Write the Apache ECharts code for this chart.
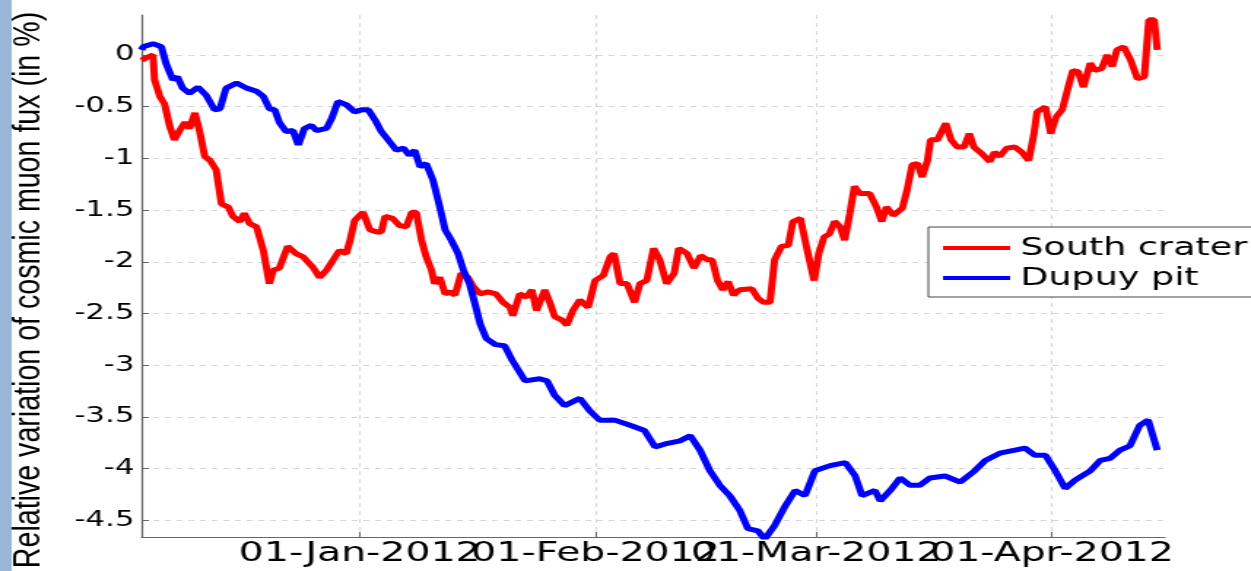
<!DOCTYPE html>
<html>
<head>
<meta charset="utf-8">
<script src="https://cdn.jsdelivr.net/npm/echarts@6/dist/echarts.min.js"></script>
<style>
  html, body { margin: 0; padding: 0; background: #fff; overflow: hidden; }
  /* the original figure was pasted stretched sideways, so draw narrow and stretch */
  #chart { width: 857px; height: 571px; transform: scaleX(1.4597); transform-origin: 0 0; }
</style>
</head>
<body>
<div id="chart"></div>
<script>
// time of each point, in days after 3 Dec 2011 08:00 UTC
const startTime = Date.UTC(2011, 11, 3, 8);
const dayMs = 86400000;

const southDays = [0, 0.8, 1.5, 1.7, 2.4, 3.0, 3.7, 4.3, 5.0, 5.7, 6.3, 7.0, 7.6, 8.3, 9.0, 9.8,
  10.5, 11.4, 12.0, 12.9, 13.5, 14.2, 15.1, 16.0, 16.8, 17.3, 18.1, 19.2, 20.3, 21.2, 22.5, 23.4,
  24.3, 25.2, 26.0, 26.9, 27.4, 28.0, 29.1, 30.0, 30.9, 31.5, 32.0, 33.0, 33.9, 34.8, 35.5, 36.1,
  36.8, 37.4, 38.1, 38.5, 39.2, 39.9, 40.5, 41.2, 42.0, 42.9, 43.6, 44.5, 45.5, 46.6, 47.5, 48.4,
  48.8, 49.7, 50.6, 51.3, 51.9, 53.0, 53.7, 54.3, 55.2, 55.9, 56.7, 57.6, 58.7, 59.6, 60.7, 61.6,
  62.1, 62.9, 63.8, 64.8, 65.5, 66.4, 67.3, 68.1, 69.0, 70.0, 70.6, 71.7, 72.6, 73.5, 74.4, 75.0,
  75.7, 76.4, 77.1, 77.8, 78.6, 80.2, 81.0, 81.7, 82.6, 83.2, 84.1, 85.0, 85.6, 86.6, 87.5, 88.4,
  89.0, 89.7, 90.4, 91.1, 91.8, 92.4, 93.1, 93.7, 94.4, 95.7, 96.6, 97.3, 97.9, 98.8, 100.0, 100.6,
  101.3, 102.0, 102.6, 103.3, 103.7, 104.6, 105.7, 106.4, 107.2, 108.1, 108.8, 109.4, 110.4, 111.5,
  112.1, 112.8, 113.7, 114.8, 115.7, 116.6, 117.3, 117.7, 118.8, 119.5, 120.2, 121.0, 121.8, 122.4,
  123.1, 123.8, 124.7, 125.3, 126.2, 126.9, 127.6, 128.2, 129.1, 130.0, 130.9, 131.8, 132.4, 133.1, 133.5];
const southValues = [-0.05, -0.02, 0.0, -0.24, -0.40, -0.47, -0.69, -0.82, -0.73, -0.65, -0.71, -0.56, -0.73, -0.98, -1.02, -1.11,
  -1.44, -1.47, -1.56, -1.61, -1.53, -1.63, -1.66, -1.89, -2.21, -2.08, -2.06, -1.85, -1.92, -1.95, -2.05, -2.15,
  -2.08, -1.98, -1.89, -1.92, -1.79, -1.60, -1.52, -1.69, -1.71, -1.71, -1.56, -1.58, -1.65, -1.66, -1.52, -1.52,
  -1.79, -1.95, -2.08, -2.21, -2.15, -2.31, -2.29, -2.32, -2.11, -2.15, -2.24, -2.31, -2.29, -2.31, -2.39, -2.44,
  -2.52, -2.31, -2.34, -2.27, -2.47, -2.27, -2.40, -2.53, -2.56, -2.61, -2.47, -2.37, -2.44, -2.18, -2.13, -1.95,
  -1.92, -2.21, -2.21, -2.39, -2.21, -2.18, -1.87, -1.98, -2.21, -2.11, -1.87, -1.92, -2.06, -1.94, -1.98, -1.98,
  -2.18, -2.27, -2.19, -2.32, -2.27, -2.26, -2.35, -2.39, -2.39, -1.98, -1.85, -1.84, -1.61, -1.58, -1.89, -2.18,
  -1.92, -1.76, -1.73, -1.61, -1.66, -1.79, -1.53, -1.27, -1.34, -1.34, -1.47, -1.61, -1.47, -1.55, -1.48, -1.31,
  -1.06, -1.05, -1.18, -1.02, -0.82, -0.82, -0.66, -0.82, -0.89, -0.89, -0.76, -0.89, -0.95, -1.03,
  -0.94, -0.98, -0.90, -0.89, -0.94, -1.02, -0.76, -0.55, -0.50, -0.76, -0.60, -0.53, -0.31, -0.15,
  -0.16, -0.31, -0.08, -0.15, -0.13, 0.00, -0.11, 0.05, 0.08, -0.05, -0.23, -0.21, 0.34, 0.34, 0.05];

const dupuyDays = [0, 0.2, 1.5, 2.6, 3.2, 4.1, 4.7, 5.4, 6.3, 7.4, 8.5, 9.6, 10.3, 11.1, 12.5, 13.8,
  15.1, 16.0, 16.8, 17.5, 18.1, 19.0, 19.9, 20.6, 21.4, 22.3, 23.0, 24.3, 25.0, 25.8, 26.9, 28.0,
  28.9, 29.8, 30.7, 31.5, 32.4, 33.5, 34.4, 35.2, 35.9, 36.6, 37.4, 38.3, 39.2, 39.9, 40.7, 41.6,
  42.3, 43.1, 43.8, 44.5, 45.3, 46.5, 47.7, 48.7, 50.4, 52.3, 53.3, 54.3, 55.6, 57.6, 58.9, 60.2,
  62.2, 64.2, 66.1, 67.5, 68.8, 70.8, 72.1, 73.4, 74.7, 76.0, 77.3, 78.6, 79.7, 81.0, 81.9, 83.2,
  84.6, 85.9, 87.2, 88.5, 90.5, 92.5, 93.8, 94.7, 96.4, 97.1, 98.4, 99.7, 101.0, 102.3, 103.6, 105.6,
  107.6, 109.5, 110.9, 112.8, 114.8, 116.1, 117.4, 118.8, 120.1, 121.4, 122.7, 124.7, 126.0, 127.3,
  128.6, 129.9, 131.2, 132.3, 133.5];
const dupuyValues = [0.05, 0.08, 0.11, 0.08, -0.08, -0.24, -0.21, -0.32, -0.37, -0.31, -0.39, -0.53, -0.52, -0.32, -0.27, -0.32,
  -0.35, -0.40, -0.52, -0.53, -0.65, -0.74, -0.73, -0.87, -0.71, -0.68, -0.73, -0.71, -0.61, -0.45, -0.48, -0.55,
  -0.53, -0.53, -0.63, -0.74, -0.82, -0.92, -0.90, -0.97, -0.92, -1.08, -1.05, -1.21, -1.47, -1.69, -1.79, -1.92,
  -2.08, -2.21, -2.40, -2.60, -2.74, -2.80, -2.81, -2.95, -3.15, -3.13, -3.15, -3.29, -3.39, -3.32, -3.44, -3.53,
  -3.53, -3.58, -3.63, -3.79, -3.76, -3.73, -3.68, -3.82, -4.02, -4.16, -4.26, -4.40, -4.58, -4.60, -4.68, -4.55,
  -4.36, -4.21, -4.26, -4.02, -3.97, -3.94, -4.07, -4.26, -4.21, -4.31, -4.21, -4.09, -4.16, -4.16, -4.09, -4.07,
  -4.13, -4.02, -3.92, -3.85, -3.82, -3.80, -3.87, -3.87, -4.02, -4.19, -4.11, -4.02, -3.92, -3.90,
  -3.82, -3.78, -3.58, -3.53, -3.82];

const monthTicks = ['2012-01-01', '2012-02-01', '2012-03-01', '2012-04-01'];
const yTicks = [-4.5, -4, -3.5, -3, -2.5, -2, -1.5, -1, -0.5, 0];
const monthNames = ['Jan', 'Feb', 'Mar', 'Apr', 'May', 'Jun', 'Jul', 'Aug', 'Sep', 'Oct', 'Nov', 'Dec'];

const toPoints = (days, values) => days.map((d, i) => [startTime + d * dayMs, values[i]]);
const monthValues = monthTicks.map(s => new Date(s + 'T00:00:00Z').getTime());
// the labels overlap each other (as in the original), so alternate months go on two stacked axes
const oddMonths = monthValues.filter((v, i) => i % 2 === 0);
const evenMonths = monthValues.filter((v, i) => i % 2 === 1);

const dateLabel = function (value) {
  const d = new Date(value);
  return String(d.getUTCDate()).padStart(2, '0') + '-' + monthNames[d.getUTCMonth()] + '-' + d.getUTCFullYear();
};
const xLabelStyle = {
  margin: 3,
  fontFamily: 'DejaVu Sans',
  fontSize: 27,
  color: '#000',
  formatter: dateLabel
};

const chart = echarts.init(document.getElementById('chart'));

const option = {
  animation: false,
  backgroundColor: '#fff',
  grid: { left: 97, right: 59, top: 15, bottom: 34, containLabel: false },
  graphic: [
    {
      type: 'rect',
      shape: { x: 0, y: 0, width: 8, height: 571 },
      style: { fill: '#9bb5d9' },
      silent: true
    },
    {
      type: 'text',
      x: 19.5,
      y: 290,
      rotation: Math.PI / 2,
      scaleX: 1.1,
      style: {
        text: 'Relative variation of cosmic muon fux (in %)',
        font: '26px "Liberation Sans"',
        fill: '#000',
        align: 'center',
        verticalAlign: 'middle'
      },
      silent: true
    }
  ],
  legend: {
    orient: 'vertical',
    left: 636,
    top: 227,
    padding: [6, 10, 4, 10],
    itemGap: 0,
    itemWidth: 46,
    itemHeight: 4,
    icon: 'rect',
    backgroundColor: '#fff',
    borderColor: '#444',
    borderWidth: 1,
    borderRadius: 0,
    textStyle: {
      fontFamily: 'DejaVu Sans',
      fontSize: 25,
      color: '#000',
      lineHeight: 30,
      padding: [0, 0, 0, 2]
    },
    data: ['South crater', 'Dupuy pit']
  },
  xAxis: [
    {
      type: 'value',
      position: 'bottom',
      min: startTime,
      max: startTime + 134.5 * dayMs,
      axisLine: { onZero: false, lineStyle: { color: '#666', width: 1.2 } },
      axisTick: { show: true, inside: true, length: 5, customValues: monthValues, lineStyle: { color: '#666' } },
      axisLabel: Object.assign({ customValues: oddMonths }, xLabelStyle),
      splitLine: { show: true, lineStyle: { color: '#d6d6d6', type: [4, 4], width: 1 } }
    },
    {
      type: 'value',
      position: 'bottom',
      offset: 0,
      min: startTime,
      max: startTime + 134.5 * dayMs,
      axisLine: { show: false, onZero: false },
      axisTick: { show: false },
      axisLabel: Object.assign({ customValues: evenMonths }, xLabelStyle),
      splitLine: { show: false }
    }
  ],
  yAxis: {
    type: 'value',
    min: -4.66,
    max: 0.387,
    axisLine: { show: true, onZero: false, lineStyle: { color: '#666', width: 1.2 } },
    axisTick: { show: true, inside: true, length: 5, customValues: yTicks, lineStyle: { color: '#666' } },
    axisLabel: {
      customValues: yTicks,
      margin: 5,
      fontFamily: 'DejaVu Sans',
      fontSize: 21,
      color: '#000'
    },
    splitLine: { show: true, lineStyle: { color: '#d6d6d6', type: [4, 4], width: 1 } }
  },
  series: [
    {
      name: 'South crater',
      type: 'line',
      xAxisIndex: 0,
      showSymbol: false,
      color: '#ff0000',
      lineStyle: { width: 5, color: '#ff0000' },
      data: toPoints(southDays, southValues)
    },
    {
      name: 'Dupuy pit',
      type: 'line',
      xAxisIndex: 0,
      showSymbol: false,
      color: '#0000ff',
      lineStyle: { width: 5, color: '#0000ff' },
      data: toPoints(dupuyDays, dupuyValues)
    }
  ]
};

chart.setOption(option);
</script>
</body>
</html>
